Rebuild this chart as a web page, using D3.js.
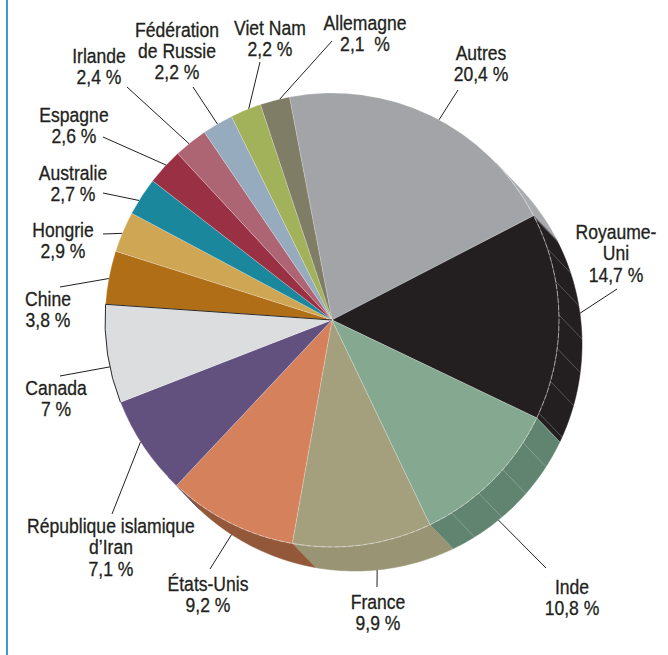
<!DOCTYPE html>
<html><head><meta charset="utf-8">
<script src="https://cdn.jsdelivr.net/npm/d3@7"></script>
<style>
html,body{margin:0;padding:0;background:#fff;}
svg{display:block;}
text{font-family:"Liberation Sans Narrow","Liberation Sans",Arial,sans-serif;font-size:19.5px;fill:#231f20;stroke:#231f20;stroke-width:0.3px;white-space:pre;}
</style></head><body>
<svg id="chart" width="668" height="655"></svg>
<script>
// ---------- DATA ----------
const categories = ["Autres","Royaume-Uni","Inde","France","États-Unis","République islamique d’Iran","Canada","Chine","Hongrie","Australie","Espagne","Irlande","Fédération de Russie","Viet Nam","Allemagne"];
const values = [20.4,14.7,10.8,9.9,9.2,7.1,7,3.8,2.9,2.7,2.6,2.4,2.2,2.2,2.1];
const valueLabels = ["20,4 %","14,7 %","10,8 %","9,9 %","9,2 %","7,1 %","7 %","3,8 %","2,9 %","2,7 %","2,6 %","2,4 %","2,2 %","2,2 %","2,1  %"];
const nameLines = [["Autres"],["Royaume-","Uni"],["Inde"],["France"],["États-Unis"],["République islamique","d’Iran"],["Canada"],["Chine"],["Hongrie"],["Australie"],["Espagne"],["Irlande"],["Fédération","de Russie"],["Viet Nam"],["Allemagne"]];
const topColors = ["#a2a4a7","#231f20","#85a990","#a4a07e","#d5825c","#62507f","#dcdddf","#b06f17","#cfa653","#1a879c","#9a3043","#ad6574","#97abbe","#a2b25a","#807d66"];
const sideColors = ["#a9abae","#231f20","#618470","#999473","#93583a","#4e406a","#c4c5c7","#8e5a12","#b08c44","#146e80","#7c2636","#8c515d","#7b8b9a","#82904a","#676552"];

// ---------- LAYOUT ----------
const W = 668, H = 655;
const cx = 332, cy = 320, R = 227;
const off = {dx: 23, dy: 24};
const startDeg = -10.8;
const lineH = 21.5;
const textScaleX = 0.9;
const facetSlices = [1, 2];
const labelLayout = [
  {x:481, y:60,  f:0.53, side:false, ex:458, ey:90},
  {x:616, y:239, f:0.37, side:true,  ex:617, ey:289},
  {x:572, y:594, f:0.65, side:true,  ex:546, ey:568},
  {x:378, y:609, f:0.56, side:true,  ex:377, ey:587},
  {x:208, y:591, f:0.69, side:true,  ex:210, ey:569},
  {x:111, y:533, f:0.56, side:false, ex:112, ey:514},
  {x:56,  y:395, f:0.37, side:false, ex:60,  ey:376},
  {x:48,  y:306, f:0.48, side:false, ex:60,  ey:287},
  {x:63,  y:237, f:0.46, side:false, ex:103, ey:234},
  {x:73,  y:180, f:0.38, side:false, ex:103, ey:193},
  {x:74,  y:122, f:0.56, side:false, ex:103, ey:137},
  {x:99,  y:63,  f:0.44, side:false, ex:127, ey:87},
  {x:177, y:36.5,f:0.49, side:false, ex:193, ey:87},
  {x:270, y:34.5,f:0.60, side:false, ex:260, ey:62},
  {x:365, y:30,  f:0.67, side:false, ex:332, ey:41}
];

const svg = d3.select("#chart");
svg.append("rect").attr("width",W).attr("height",H).attr("fill","#fff");
svg.append("line").attr("x1",7).attr("x2",7).attr("y1",0).attr("y2",H)
  .attr("stroke","#3d9ad1").attr("stroke-width",2);

const rad = d => d*Math.PI/180;
const pie = d3.pie().sort(null).value(d=>d)
  .startAngle(rad(startDeg)).endAngle(rad(startDeg)+2*Math.PI);
const arcs = pie(values);

const pt = (a, ox=0, oy=0) => [cx+ox+R*Math.sin(a), cy+oy-R*Math.cos(a)];

// side visible where dx*sin(a) - dy*cos(a) > 0
const phi = Math.atan2(off.dy, off.dx);
const visA = phi, visB = phi + Math.PI;

const gSide = svg.append("g");
arcs.forEach((d,i)=>{
  [0, 2*Math.PI, -2*Math.PI].forEach(k=>{
    const s = Math.max(d.startAngle+k, visA), e = Math.min(d.endAngle+k, visB);
    if (e - s <= 0.0005) return;
    const n = Math.max(2, Math.ceil((e-s)/rad(1)));
    const top = d3.range(n+1).map(j=>pt(s+(e-s)*j/n));
    const bot = d3.range(n+1).map(j=>pt(s+(e-s)*j/n, off.dx, off.dy)).reverse();
    gSide.append("path").attr("d", d3.line()(top.concat(bot))+"Z")
      .attr("fill", sideColors[i]).attr("stroke", sideColors[i]).attr("stroke-width",0.5);
    if (facetSlices.includes(i)) {
      const step = rad(8.5);
      const pos = [];
      for (let a = visA + step; a < visB; a += step) if (a > s + 0.01 && a < e - 0.01) pos.push(a);
      [d.startAngle+k, d.endAngle+k].forEach(a=>{ if (a > visA+0.01 && a < visB-0.01) pos.push(a); });
      pos.forEach(a=>{
        const p1 = pt(a), p2 = pt(a, off.dx, off.dy);
        gSide.append("line").attr("x1",p1[0]).attr("y1",p1[1]).attr("x2",p2[0]).attr("y2",p2[1])
          .attr("stroke","#fff").attr("stroke-opacity",0.4).attr("stroke-width",0.6);
      });
    }
  });
});

// top faces
const arcGen = d3.arc().innerRadius(0).outerRadius(R);
const gTop = svg.append("g").attr("transform",`translate(${cx},${cy})`);
gTop.selectAll("path").data(arcs).join("path")
  .attr("d", arcGen)
  .attr("fill",(d,i)=>topColors[i])
  .attr("stroke","#fff").attr("stroke-opacity",0.45).attr("stroke-width",0.5);

// Canada outline (outer arc + upper edge)
{
  const d = arcs[6];
  const p = d3.path();
  p.moveTo(0,0);
  const e = pt(d.endAngle);
  p.lineTo(e[0]-cx, e[1]-cy);
  p.arc(0,0,R,d.endAngle-Math.PI/2,d.startAngle-Math.PI/2,true);
  gTop.append("path").attr("d",p.toString()).attr("fill","none")
    .attr("stroke","#2a2a2a").attr("stroke-width",1);
}

// light dashed rim on the visible side
{
  const p = d3.path();
  p.arc(cx,cy,R,visA-Math.PI/2+0.05,visB-Math.PI/2-0.05,false);
  svg.append("path").attr("d",p.toString()).attr("fill","none")
    .attr("stroke","#e8e8e8").attr("stroke-opacity",0.6).attr("stroke-width",0.8)
    .attr("stroke-dasharray","5,2");
}

// leaders and labels
const gLab = svg.append("g");
arcs.forEach((d,i)=>{
  const L = labelLayout[i];
  const a = d.startAngle + L.f*(d.endAngle-d.startAngle);
  const p = L.side ? pt(a, off.dx, off.dy) : pt(a);
  gLab.append("line").attr("x1",p[0]).attr("y1",p[1]).attr("x2",L.ex).attr("y2",L.ey)
    .attr("stroke","#231f20").attr("stroke-width",1);
  const lines = nameLines[i].concat([valueLabels[i]]);
  const t = gLab.append("text").attr("text-anchor","middle")
    .attr("transform",`translate(${L.x},${L.y}) scale(${textScaleX},1)`);
  lines.forEach((s,j)=>{
    t.append("tspan").attr("x",0).attr("y",j*lineH).text(s);
  });
});
</script>
</body></html>
